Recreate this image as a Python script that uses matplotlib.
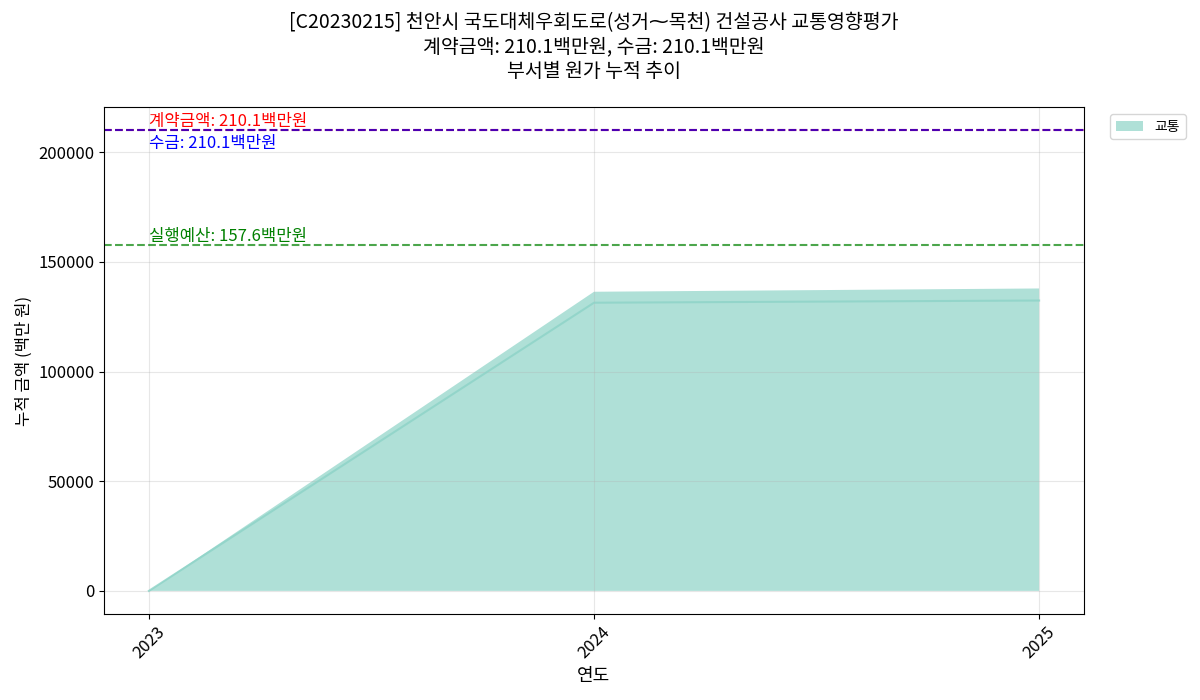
import numpy as np
import matplotlib
matplotlib.use('agg')
import matplotlib.pyplot as plt
import matplotlib.ticker as ticker

plt.rcParams['font.family'] = ['Noto Sans CJK KR', 'DejaVu Sans']
plt.rcParams['axes.unicode_minus'] = False

# data
years = [2023, 2024, 2025]
dept = '교통'
cum_cost = [0, 136400, 137900]
cum_line = [0, 131400, 132400]
contract = 210100
received = 210100
budget = 157600
title = ('[C20230215] 천안시 국도대체우회도로(성거\u2053목천) 건설공사 교통영향평가\n'
         '계약금액: 210.1백만원, 수금: 210.1백만원\n'
         '부서별 원가 누적 추이')

fig = plt.figure(figsize=[12, 7], dpi=100)
ax = fig.add_axes([0.087, 0.123, 0.816, 0.724])
ax.use_sticky_edges = False

ax.stackplot(years, cum_cost, labels=[dept], colors=['#8dd3c7'], alpha=0.7)
ax.plot(years, cum_line, color='#8dd3c7', alpha=0.8, lw=1.5)

ax.axhline(contract, color='red', ls='--', lw=1.5)
ax.axhline(received, color='blue', ls='--', lw=1.5, alpha=0.7)
ax.axhline(budget, color='green', ls='--', lw=1.5, alpha=0.7)
ax.text(years[0], contract, '계약금액: 210.1백만원', color='red', va='bottom', fontsize=12)
ax.text(years[0], received - 2200, '수금: 210.1백만원', color='blue', va='top', fontsize=12)
ax.text(years[0], budget, '실행예산: 157.6백만원', color='green', va='bottom', fontsize=12)

ax.set_xticks(years)
ax.set_xticklabels([str(y) for y in years], rotation=45)
ax.yaxis.set_major_locator(ticker.MultipleLocator(50000))
ax.tick_params(labelsize=12)
ax.grid(True, alpha=0.3)
ax.set_xlabel('연도', fontsize=13)
ax.set_ylabel('누적 금액 (백만 원)', fontsize=12)
ax.set_title(title, fontsize=14, pad=22)
ax.legend(loc='upper left', bbox_to_anchor=(1.02, 1))

plt.savefig('out.png', dpi=100)
plt.close()
